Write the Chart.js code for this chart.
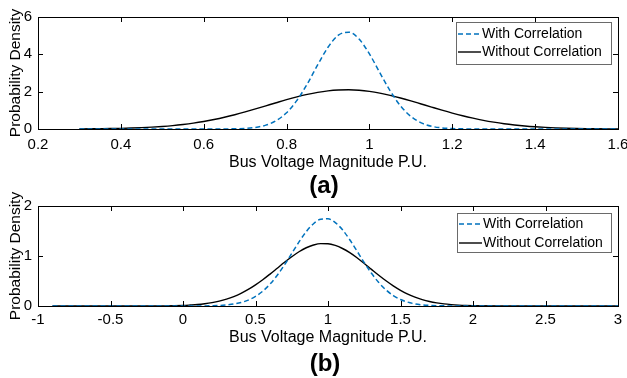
<!DOCTYPE html>
<html>
<head>
<meta charset="utf-8">
<script src="https://cdn.jsdelivr.net/npm/chart.js@4"></script>
<style>
  html, body { margin: 0; padding: 0; background: #fff; }
  #wrap { position: relative; width: 627px; height: 378px; overflow: hidden;
          font-family: "Liberation Sans", Arial, sans-serif; }
  canvas { position: absolute; left: 0; }
  #c1 { top: 0; }
  #c2 { top: 188px; }
  .tag { position: absolute; width: 60px; margin-left: -30px; text-align: center;
         font-weight: bold; font-size: 24px; line-height: 26px; color: #000; }
</style>
</head>
<body>
<div id="wrap">
  <canvas id="c1" width="627" height="175"></canvas>
  <canvas id="c2" width="627" height="162"></canvas>
  <div class="tag" style="left:324px; top:172px;">(a)</div>
  <div class="tag" style="left:325px; top:350px;">(b)</div>
</div>
<script>
// (a) 상단: 0.3 ~ 1.6, 0.025 간격
const xA = [0.3, 0.325, 0.35, 0.375, 0.4, 0.425, 0.45, 0.475, 0.5, 0.525, 0.55, 0.575, 0.6,
  0.625, 0.65, 0.675, 0.7, 0.725, 0.75, 0.775, 0.8, 0.825, 0.85, 0.875, 0.9, 0.925, 0.95,
  0.975, 1.0, 1.025, 1.05, 1.075, 1.1, 1.125, 1.15, 1.175, 1.2, 1.225, 1.25, 1.275, 1.3,
  1.325, 1.35, 1.375, 1.4, 1.425, 1.45, 1.475, 1.5, 1.525, 1.55, 1.575, 1.6];
const withA = [0, 0, 0, 0, 0, 0, 0, 0, 0, 0, 0, 0, 0,
  0.001, 0.003, 0.011, 0.032, 0.085, 0.206, 0.447, 0.873, 1.531, 2.415, 3.430, 4.378, 5.026, 5.189,
  4.817, 4.021, 3.018, 2.042, 1.237, 0.676, 0.331, 0.147, 0.058, 0.021, 0.007, 0.002, 0, 0,
  0, 0, 0, 0, 0, 0, 0, 0, 0, 0, 0, 0];
const withoutA = [0.0066, 0.010, 0.016, 0.023, 0.034, 0.050, 0.071, 0.098, 0.135, 0.182, 0.242, 0.315, 0.404,
  0.509, 0.629, 0.765, 0.915, 1.075, 1.241, 1.407, 1.570, 1.720, 1.853, 1.962, 2.042, 2.088, 2.099,
  2.074, 2.014, 1.922, 1.802, 1.662, 1.506, 1.340, 1.174, 1.010, 0.854, 0.709, 0.580, 0.465, 0.367,
  0.284, 0.217, 0.162, 0.119, 0.086, 0.062, 0.043, 0.029, 0.020, 0.013, 0.0086, 0.0055];

// (b) 하단: -0.9 ~ 3
const xB = [-0.9, -0.6, -0.3,
  0, 0.05, 0.1, 0.15, 0.2, 0.25, 0.3, 0.35, 0.4, 0.45,
  0.5, 0.55, 0.6, 0.65, 0.7, 0.75, 0.8, 0.85, 0.9, 0.95,
  1.0, 1.05, 1.1, 1.15, 1.2, 1.25, 1.3, 1.35, 1.4, 1.45,
  1.5, 1.55, 1.6, 1.65, 1.7, 1.75, 1.8, 1.85, 1.9, 1.95,
  2.0, 2.2, 2.5, 2.8, 3.0];
const withB = [0, 0, 0,
  0.0002, 0.0004, 0.001, 0.002, 0.005, 0.010, 0.021, 0.039, 0.069, 0.117,
  0.191, 0.296, 0.437, 0.614, 0.823, 1.052, 1.282, 1.488, 1.646, 1.735,
  1.743, 1.669, 1.524, 1.325, 1.099, 0.868, 0.654, 0.469, 0.321, 0.209,
  0.130, 0.077, 0.043, 0.023, 0.012, 0.006, 0.003, 0.001, 0.0005, 0.0002,
  0.0001, 0, 0, 0, 0];
const withoutB = [0, 0.0001, 0.0005,
  0.012, 0.020, 0.030, 0.046, 0.068, 0.098, 0.138, 0.189, 0.253, 0.331,
  0.423, 0.525, 0.638, 0.756, 0.874, 0.985, 1.085, 1.165, 1.220, 1.248,
  1.245, 1.211, 1.150, 1.066, 0.964, 0.850, 0.732, 0.615, 0.504, 0.403,
  0.314, 0.239, 0.178, 0.129, 0.091, 0.063, 0.042, 0.028, 0.018, 0.011,
  0.007, 0.001, 0, 0, 0];

const SERIES = ["With Correlation", "Without Correlation"];
const BLUE = "#0072BD";
const FONT = "'Liberation Sans', Arial, sans-serif";

const pairs = (xs, ys) => xs.map((x, i) => ({ x, y: ys[i] }));
const tickFmt = (v) => String(+Number(v).toFixed(2));

// MATLAB 스타일 테두리 + 안쪽 눈금
const boxFrame = {
  id: "boxFrame",
  afterDatasetsDraw(chart) {
    const { ctx, chartArea: a, scales } = chart;
    ctx.save();
    ctx.strokeStyle = "#000";
    ctx.lineWidth = 1;
    ctx.setLineDash([]);
    ctx.beginPath();
    scales.x.ticks.forEach((t) => {
      const px = Math.round(scales.x.getPixelForValue(t.value)) + 0.5;
      ctx.moveTo(px, a.bottom); ctx.lineTo(px, a.bottom - 5);
      ctx.moveTo(px, a.top); ctx.lineTo(px, a.top + 5);
    });
    scales.y.ticks.forEach((t) => {
      const py = Math.round(scales.y.getPixelForValue(t.value)) + 0.5;
      ctx.moveTo(a.left, py); ctx.lineTo(a.left + 5, py);
      ctx.moveTo(a.right, py); ctx.lineTo(a.right - 5, py);
    });
    ctx.stroke();
    ctx.strokeRect(Math.round(a.left) + 0.5, Math.round(a.top) + 0.5,
      Math.round(a.right - a.left), Math.round(a.bottom - a.top));
    ctx.restore();
  },
};

// 상자형 범례 (데이터셋 스타일을 그대로 사용)
const boxLegend = {
  id: "boxLegend",
  afterDraw(chart, args, o) {
    const { ctx, chartArea: a } = chart;
    const x0 = a.right - o.right - o.width, y0 = a.top + o.top;
    ctx.save();
    ctx.fillStyle = "#fff";
    ctx.fillRect(x0, y0, o.width, o.height);
    ctx.strokeStyle = "#6a6a6a";
    ctx.lineWidth = 1;
    ctx.strokeRect(x0 + 0.5, y0 + 0.5, o.width, o.height);
    chart.data.datasets.forEach((ds, i) => {
      const cy = y0 + o.row0 + i * o.rowGap;
      ctx.strokeStyle = ds.borderColor;
      ctx.lineWidth = ds.borderWidth;
      ctx.setLineDash(ds.borderDash || []);
      ctx.beginPath();
      ctx.moveTo(x0 + 2, cy); ctx.lineTo(x0 + 25, cy);
      ctx.stroke();
      ctx.setLineDash([]);
      ctx.fillStyle = "#000";
      ctx.font = "14px " + FONT;
      ctx.textBaseline = "middle";
      ctx.fillText(ds.label, x0 + 26, cy);
    });
    ctx.restore();
  },
};

function makeChart(id, xs, ysWith, ysWithout, xr, yr, lay) {
  return new Chart(document.getElementById(id), {
    type: "line",
    data: {
      datasets: [
        { label: SERIES[0], data: pairs(xs, ysWith), borderColor: BLUE, borderWidth: 1.5,
          borderDash: [5, 3], pointRadius: 0, cubicInterpolationMode: "monotone", fill: false },
        { label: SERIES[1], data: pairs(xs, ysWithout), borderColor: "#000", borderWidth: 1.4,
          pointRadius: 0, cubicInterpolationMode: "monotone", fill: false },
      ],
    },
    options: {
      responsive: false, animation: false,
      layout: { padding: { top: lay.top, right: 9, left: 0, bottom: 0 } },
      plugins: {
        legend: { display: false }, tooltip: { enabled: false },
        boxLegend: lay.legend,
      },
      scales: {
        x: {
          type: "linear", min: xr[0], max: xr[1],
          ticks: { stepSize: xr[2], padding: lay.tickPad, color: "#000", maxRotation: 0,
                   callback: tickFmt, font: { family: FONT, size: 15 } },
          grid: { display: false, drawTicks: false },
          border: { display: false },
          title: { display: true, text: "Bus Voltage Magnitude P.U.", color: "#000",
                   font: { family: FONT, size: 16 }, padding: { top: 0, bottom: 3 } },
          afterFit: (s) => { s.height = lay.xh; s.paddingLeft = 0; s.paddingRight = 0; },
        },
        y: {
          min: yr[0], max: yr[1],
          ticks: { stepSize: yr[2], padding: 6, color: "#000", callback: tickFmt,
                   font: { family: FONT, size: 15 } },
          grid: { display: false, drawTicks: false },
          border: { display: false },
          title: { display: true, text: "Probability Density", color: "#000",
                   font: { family: FONT, size: 15.5 }, padding: { top: 6, bottom: 0 } },
          afterFit: (s) => { s.width = 38; s.paddingTop = 0; s.paddingBottom = 0; },
        },
      },
    },
    plugins: [boxFrame, boxLegend],
  });
}

makeChart("c1", xA, withA, withoutA, [0.2, 1.6, 0.2], [0, 6, 2],
  { top: 17, xh: 46, tickPad: 7,
    legend: { right: 7, top: 5, width: 155, height: 42, row0: 12, rowGap: 18 } });
makeChart("c2", xB, withB, withoutB, [-1, 3, 0.5], [0, 2, 1],
  { top: 18, xh: 44, tickPad: 5,
    legend: { right: 7, top: 7, width: 154, height: 39, row0: 11, rowGap: 19 } });
</script>
</body>
</html>
